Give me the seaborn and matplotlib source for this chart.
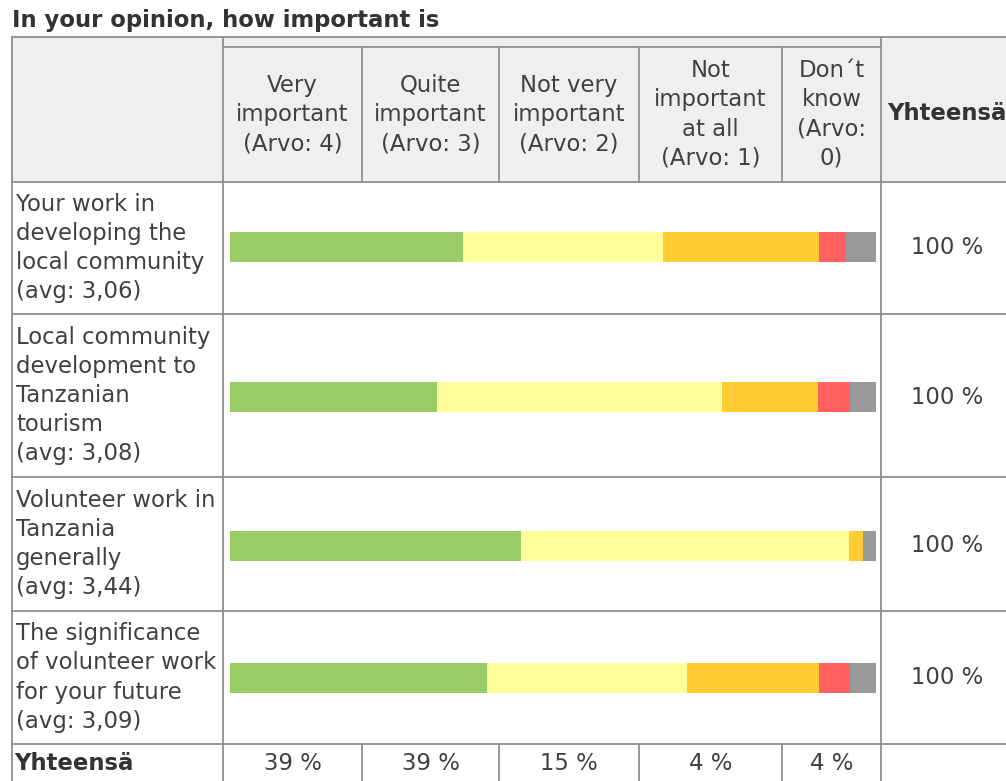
import matplotlib
matplotlib.use("Agg")
import matplotlib.pyplot as plt
from matplotlib.patches import Rectangle
from matplotlib.lines import Line2D
import seaborn as sns
import pandas as pd

# ---------------- data ----------------
title = "In your opinion, how important is"
column_labels = ["Very\nimportant\n(Arvo: 4)",
                 "Quite\nimportant\n(Arvo: 3)",
                 "Not very\nimportant\n(Arvo: 2)",
                 "Not\nimportant\nat all\n(Arvo: 1)",
                 "Don\u00b4t\nknow\n(Arvo:\n0)"]
categories = ["Very important", "Quite important", "Not very important",
              "Not important at all", "Don't know"]
row_labels = ["Your work in\ndeveloping the\nlocal community\n(avg: 3,06)",
              "Local community\ndevelopment to\nTanzanian\ntourism\n(avg: 3,08)",
              "Volunteer work in\nTanzania\ngenerally\n(avg: 3,44)",
              "The significance\nof volunteer work\nfor your future\n(avg: 3,09)"]
very_important = [36.1, 32.0, 45.0, 39.8]
quite_important = [31.0, 44.1, 50.8, 31.0]
not_very_important = [24.0, 14.9, 2.2, 20.3]
not_important_at_all = [4.2, 5.0, 0.0, 4.9]
dont_know = [4.7, 4.0, 2.0, 4.0]
row_totals = ["100 %", "100 %", "100 %", "100 %"]
total_label = "Yhteensä"
column_totals = ["39 %", "39 %", "15 %", "4 %", "4 %"]
colors = ["#99cc66", "#ffff99", "#ffcc33", "#ff6161", "#999999"]

# ---------------- layout (pixels) ----------------
W, H = 1006, 781
sns.set_style("white")
plt.rcParams["font.family"] = ["DejaVu Sans"]
fig = plt.figure(figsize=(W / 100, H / 100), dpi=100)
fig.patch.set_facecolor("white")

def fx(x):
    return x / W

def fy(y):
    return 1 - y / H

LINE = "#8f8f8f"
TXT = "#404040"
HDR_BG = "#efefef"
FS = 16.4
LS = 1.34

left, col1, right_tab, right_edge = 12, 223, 881, 1006
col_edges = [223, 362, 499, 639, 782, 881]
top_outer, top_inner, hdr_bottom = 37, 47, 182
row_edges = [182, 314, 477, 611, 744]
bottom = 781
bar_left, bar_right = 230, 876
bar_centers = [247, 397, 545.5, 677.5]
bar_h = 30

# header background
fig.patches.append(Rectangle((fx(left), fy(hdr_bottom)), fx(right_edge) - fx(left),
                             fy(top_outer) - fy(hdr_bottom), transform=fig.transFigure,
                             facecolor=HDR_BG, edgecolor="none", zorder=0))

def hline(y, x0, x1):
    fig.lines.append(Line2D([fx(x0), fx(x1)], [fy(y), fy(y)], transform=fig.transFigure,
                            color=LINE, lw=1.3, zorder=3))

def vline(x, y0, y1):
    fig.lines.append(Line2D([fx(x), fx(x)], [fy(y0), fy(y1)], transform=fig.transFigure,
                            color=LINE, lw=1.3, zorder=3))

hline(top_outer, left, right_edge)
hline(top_inner, col1, right_tab)
for y in row_edges:
    hline(y, left, right_edge)
for x in [left, col1, right_tab]:
    vline(x, top_outer, bottom)
for x in col_edges[1:-1]:
    vline(x, top_inner, hdr_bottom)
    vline(x, row_edges[-1], bottom)

# title
fig.text(fx(12), fy(20), title, fontsize=FS, fontweight="bold", color="#333333",
         ha="left", va="center")

# column headers
for i, lab in enumerate(column_labels):
    cx = (col_edges[i] + col_edges[i + 1]) / 2
    fig.text(fx(cx), fy((top_inner + hdr_bottom) / 2), lab, fontsize=FS, color=TXT,
             ha="center", va="center", linespacing=LS, multialignment="center")
fig.text(fx(887), fy(113), total_label, fontsize=FS, fontweight="bold", color="#333333",
         ha="left", va="center")

# row labels and totals
for i, lab in enumerate(row_labels):
    cy = (row_edges[i] + row_edges[i + 1]) / 2
    fig.text(fx(16), fy(cy), lab, fontsize=FS, color=TXT, ha="left", va="center",
             linespacing=LS)
    fig.text(fx(947), fy(bar_centers[i]), row_totals[i], fontsize=FS, color=TXT,
             ha="center", va="center")

# bottom totals row
fig.text(fx(14), fy(763), total_label, fontsize=FS, fontweight="bold", color="#333333",
         ha="left", va="center")
for i, t in enumerate(column_totals):
    cx = (col_edges[i] + col_edges[i + 1]) / 2
    fig.text(fx(cx), fy(763), t, fontsize=FS, color=TXT, ha="center", va="center")

# ---------------- stacked bars (seaborn) ----------------
series = [very_important, quite_important, not_very_important,
          not_important_at_all, dont_know]
for r, lab in enumerate(row_labels):
    cy = bar_centers[r]
    ax = fig.add_axes([fx(bar_left), fy(cy + bar_h / 2), fx(bar_right) - fx(bar_left),
                       fy(cy - bar_h / 2) - fy(cy + bar_h / 2)])
    vals = [s[r] for s in series]
    cum = []
    total = 0
    for v in vals:
        total += v
        cum.append(total)
    df = pd.DataFrame({"row": [lab] * len(categories), "category": categories, "cum": cum})
    # draw from the outermost (largest cumulative) inward so earlier segments sit on top
    for k in range(len(categories) - 1, -1, -1):
        sub = df.iloc[[k]]
        sns.barplot(data=sub, x="cum", y="row", color=colors[k], orient="h",
                    width=1.0, saturation=1, linewidth=0, ax=ax, errorbar=None)
    ax.set_xlim(0, 100)
    ax.set_ylim(0.5, -0.5)
    ax.axis("off")
    ax.patch.set_alpha(0)

fig.savefig("out.png", dpi=100, facecolor="white")
